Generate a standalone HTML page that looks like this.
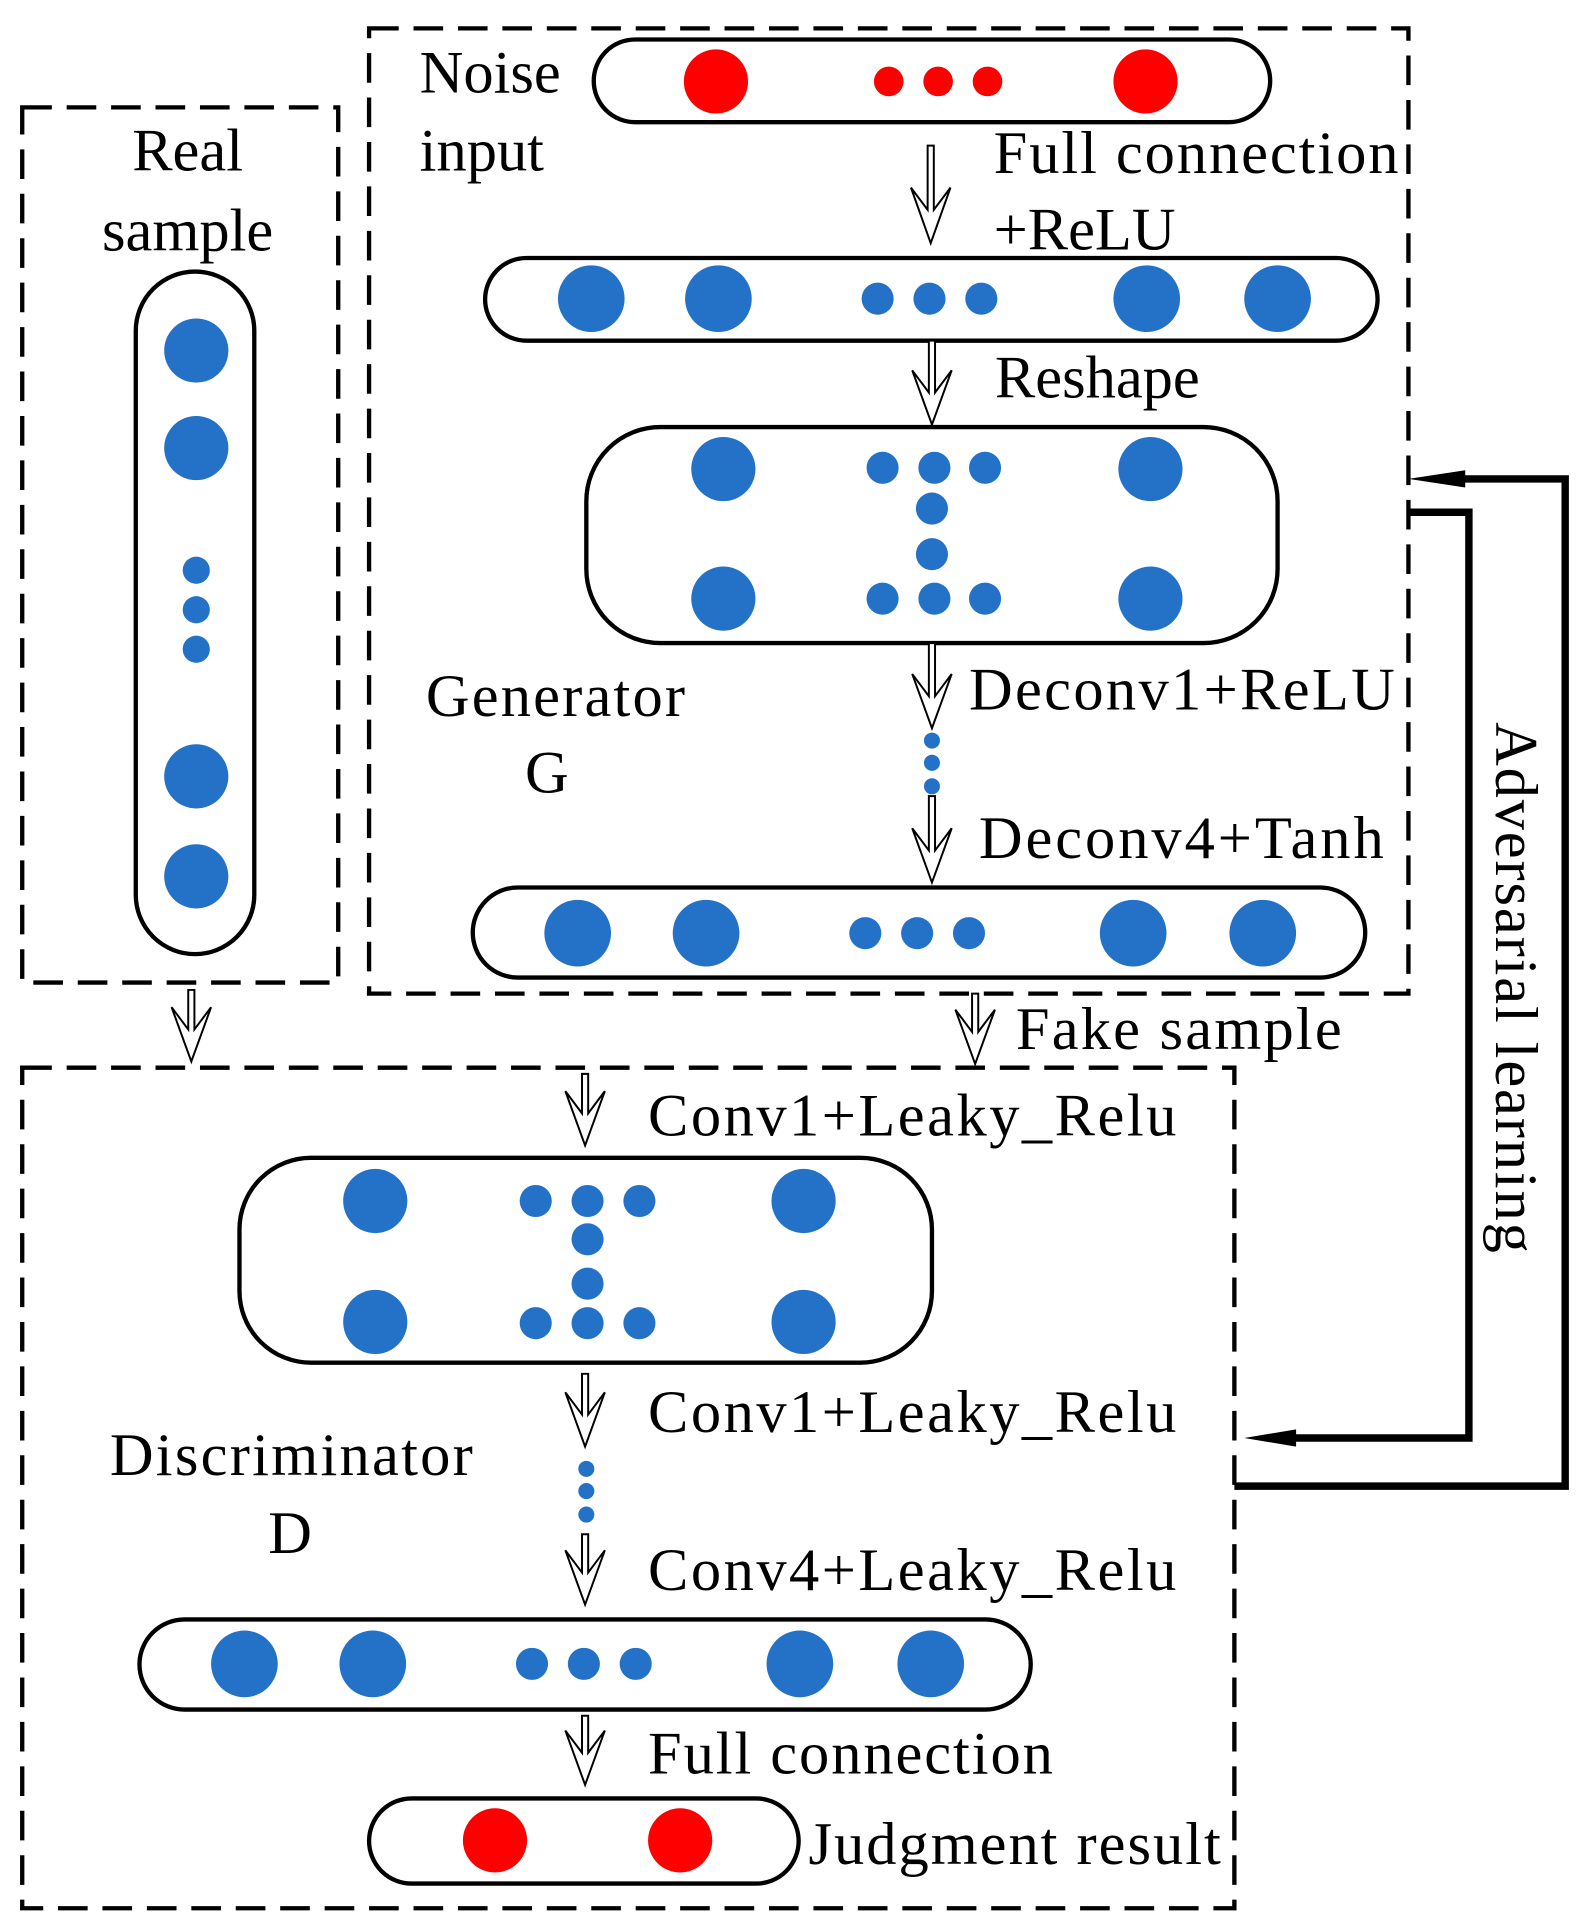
<!DOCTYPE html>
<html><head><meta charset="utf-8"><style>html,body{margin:0;padding:0;background:#fff}svg{display:block}text{font-family:"Liberation Serif","Times New Roman",Times,serif}</style></head>
<body>
<svg width="1580" height="1930" viewBox="0 0 1280 1563.6" preserveAspectRatio="none" xmlns="http://www.w3.org/2000/svg">
<g fill="none" stroke="#000" stroke-width="3.5" stroke-dasharray="24 12">
<rect x="18" y="87" width="256" height="709"/>
<rect x="299" y="23" width="842" height="782"/>
<rect x="18" y="865" width="982" height="681"/>
</g>
<g fill="#fff" stroke="#000" stroke-width="3.5">
<rect x="481" y="32" width="548" height="67" rx="33.5"/>
<rect x="393" y="209" width="723" height="67" rx="33.5"/>
<rect x="475" y="346" width="560" height="175" rx="60"/>
<rect x="383" y="719" width="723" height="73" rx="36.5"/>
<rect x="110" y="220" width="96" height="553" rx="48"/>
<rect x="194" y="938" width="561" height="166" rx="58"/>
<rect x="113" y="1312" width="722" height="73" rx="36.5"/>
<rect x="299" y="1457" width="348" height="69" rx="34.5"/>
</g>
<g fill="#f00">
<circle cx="580" cy="66" r="26"/><circle cx="928" cy="66" r="26"/>
<circle cx="720" cy="66" r="12"/><circle cx="760" cy="66" r="12"/><circle cx="800" cy="66" r="12"/>
<circle cx="401" cy="1491" r="26"/><circle cx="551" cy="1491" r="26"/>
</g>
<g fill="#2372c8">
<circle cx="479" cy="242" r="27"/><circle cx="582" cy="242" r="27"/><circle cx="929" cy="242" r="27"/><circle cx="1035" cy="242" r="27"/>
<circle cx="711" cy="242" r="13"/><circle cx="753" cy="242" r="13"/><circle cx="795" cy="242" r="13"/>
<circle cx="586" cy="380" r="26"/><circle cx="932" cy="380" r="26"/><circle cx="586" cy="485" r="26"/><circle cx="932" cy="485" r="26"/>
<circle cx="715" cy="379" r="13"/><circle cx="757" cy="379" r="13"/><circle cx="798" cy="379" r="13"/>
<circle cx="755" cy="412" r="13"/><circle cx="755" cy="449" r="13"/>
<circle cx="715" cy="485" r="13"/><circle cx="757" cy="485" r="13"/><circle cx="798" cy="485" r="13"/>
<circle cx="468" cy="756" r="27"/><circle cx="572" cy="756" r="27"/><circle cx="918" cy="756" r="27"/><circle cx="1023" cy="756" r="27"/>
<circle cx="701" cy="756" r="13"/><circle cx="743" cy="756" r="13"/><circle cx="785" cy="756" r="13"/>
<circle cx="159" cy="284" r="26"/><circle cx="159" cy="363" r="26"/><circle cx="159" cy="629" r="26"/><circle cx="159" cy="710" r="26"/>
<circle cx="159" cy="462" r="11"/><circle cx="159" cy="494" r="11"/><circle cx="159" cy="526" r="11"/>
<circle cx="755" cy="600" r="6.5"/><circle cx="755" cy="618" r="6.5"/><circle cx="755" cy="637" r="6.5"/>
<circle cx="304" cy="973" r="26"/><circle cx="651" cy="973" r="26"/><circle cx="304" cy="1071" r="26"/><circle cx="651" cy="1071" r="26"/>
<circle cx="434" cy="973" r="13"/><circle cx="476" cy="973" r="13"/><circle cx="518" cy="973" r="13"/>
<circle cx="476" cy="1004" r="13"/><circle cx="476" cy="1040" r="13"/>
<circle cx="434" cy="1072" r="13"/><circle cx="476" cy="1072" r="13"/><circle cx="518" cy="1072" r="13"/>
<circle cx="475" cy="1190" r="6.5"/><circle cx="475" cy="1208" r="6.5"/><circle cx="475" cy="1227" r="6.5"/>
<circle cx="198" cy="1348" r="27"/><circle cx="302" cy="1348" r="27"/><circle cx="648" cy="1348" r="27"/><circle cx="754" cy="1348" r="27"/>
<circle cx="431" cy="1348" r="13"/><circle cx="473" cy="1348" r="13"/><circle cx="515" cy="1348" r="13"/>
</g>
<g fill="#fff" stroke="#000" stroke-width="1.6" stroke-linejoin="miter">
<polygon points="751.5,118 756.5,118 756.5,170 770,152 754,197 738,152 751.5,170"/>
<polygon points="752.5,276 757.5,276 757.5,318 771,300 755,344 739,300 752.5,318"/>
<polygon points="752.5,521 757.5,521 757.5,564 771,546 755,590 739,546 752.5,564"/>
<polygon points="752.5,645 757.5,645 757.5,689 771,671 755,715 739,671 752.5,689"/>
<polygon points="152.5,802 157.5,802 157.5,834 171,816 155,860 139,816 152.5,834"/>
<polygon points="787.5,805 792.5,805 792.5,836 806,818 790,862 774,818 787.5,836"/>
<polygon points="471.5,870 476.5,870 476.5,902 490,884 474,928 458,884 471.5,902"/>
<polygon points="471.5,1113 476.5,1113 476.5,1146 490,1128 474,1172 458,1128 471.5,1146"/>
<polygon points="471.5,1243 476.5,1243 476.5,1274 490,1256 474,1300 458,1256 471.5,1274"/>
<polygon points="471.5,1390 476.5,1390 476.5,1420 490,1402 474,1446 458,1402 471.5,1420"/>
</g>
<g fill="none" stroke="#000" stroke-width="6">
<polyline points="1180,388 1268,388 1268,1204 1000,1204"/>
<polyline points="1141,415 1190,415 1190,1165 1045,1165"/>
</g>
<polygon points="1141,388 1187,381 1187,395" fill="#000"/>
<polygon points="1008,1165 1050,1158 1050,1172" fill="#000"/>
<g font-size="49" fill="#000">
<text x="340" y="75">Noise</text>
<text x="340" y="138">input</text>
<text x="152" y="138" text-anchor="middle">Real</text>
<text x="152" y="203" text-anchor="middle">sample</text>
<text x="805" y="140" textLength="328">Full connection</text>
<text x="805" y="202">+ReLU</text>
<text x="806" y="322">Reshape</text>
<text x="345" y="580" textLength="210">Generator</text>
<text x="443" y="642" text-anchor="middle">G</text>
<text x="785" y="575" textLength="345">Deconv1+ReLU</text>
<text x="793" y="695" textLength="328">Deconv4+Tanh</text>
<text x="823" y="850" textLength="264">Fake sample</text>
<text x="525" y="920" textLength="428">Conv1+Leaky_Relu</text>
<text x="525" y="1160" textLength="428">Conv1+Leaky_Relu</text>
<text x="525" y="1288" textLength="428">Conv4+Leaky_Relu</text>
<text x="89" y="1195" textLength="294">Discriminator</text>
<text x="235" y="1258" text-anchor="middle">D</text>
<text x="525" y="1437" textLength="328">Full connection</text>
<text x="655" y="1510" textLength="334">Judgment result</text>
<text transform="translate(1212,585) rotate(90)" textLength="430">Adversarial learning</text>
</g>
</svg>
</body></html>
